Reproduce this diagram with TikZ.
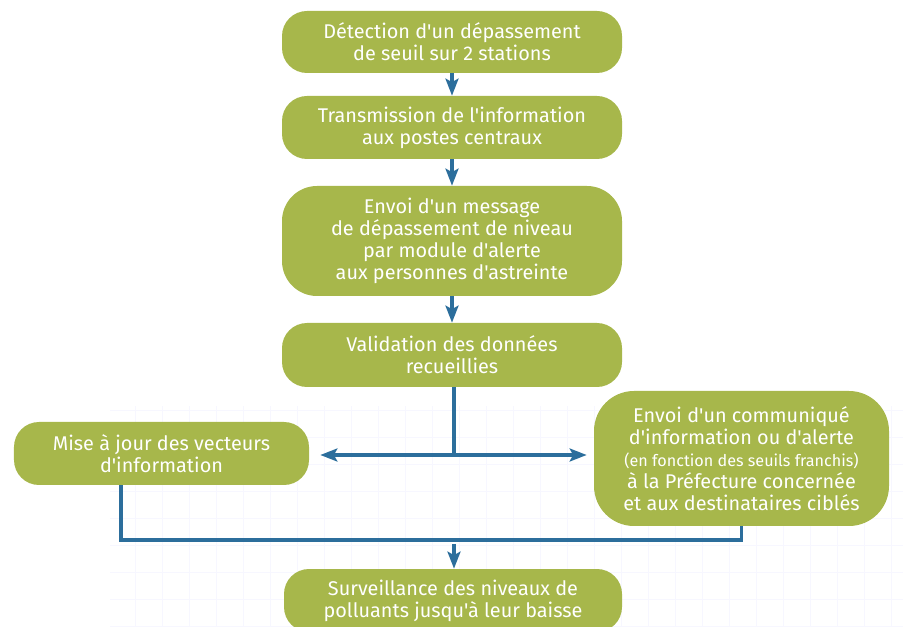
\documentclass[tikz,border=0pt]{standalone}
\usepackage{fontspec}
\setmainfont{Fira Sans}[Ligatures=TeXOff]
\usetikzlibrary{arrows.meta}
\definecolor{verde}{HTML}{A7B74B}
\definecolor{azul}{HTML}{2C6E9C}
\tikzset{
  etapa/.style={rounded corners=0.5cm, fill=verde, text=white, align=center,
    minimum width=6.8cm, minimum height=1.26cm, inner sep=0pt,
    font=\fontsize{11.3}{12.6}\selectfont},
  ligacao/.style={draw=azul, line width=1.8pt},
  seta/.style={ligacao, -{Stealth[length=0.34cm, width=0.26cm, inset=0.07cm]}},
}
\begin{document}
\begin{tikzpicture}
            \useasboundingbox (0,0) rectangle (18.06,12.52);
            % Grade de fundo
            \draw[step=0.54cm, blue!3, very thin] (2.2,-0.2) grid (18.06,4.4);
            % Etapas principais (coluna central)
            \node at (9.04,11.68) (n1) [etapa, minimum height=1.24cm] {Détection d'un dépassement\\de seuil sur 2 stations};
            \node at (9.04,9.97) (n2) [etapa] {Transmission de l'information\\aux postes centraux};
            \node at (9.04,7.70) (n3) [etapa, minimum height=2.2cm, rounded corners=0.7cm] {Envoi d'un message\\de dépassement de niveau\\par module d'alerte\\aux personnes d'astreinte};
            \node at (9.04,5.42) (n4) [etapa, minimum height=1.28cm] {Validation des données\\recueillies};
            % Ramos esquerdo e direito
            \node at (3.23,3.45) (n5) [etapa, minimum width=5.9cm] {Mise à jour des vecteurs\\d'information};
            \node at (14.83,3.35) (n6) [etapa, minimum width=5.9cm, minimum height=2.7cm, rounded corners=0.8cm] {Envoi d'un communiqué\\d'information ou d'alerte\\{\fontsize{9.2}{12.6}\selectfont(en fonction des seuils franchis)}\\à la Préfecture concernée\\et aux destinataires ciblés};
            % Etapa final
            \node at (9.06,0.51) (n7) [etapa, minimum width=6.76cm] {Surveillance des niveaux de\\polluants jusqu'à leur baisse};
            % Setas entre as etapas
            \draw[seta] (n1) -- (n2);
            \draw[seta] (n2) -- (n3);
            \draw[seta] (n3) -- (n4);
            \coordinate (j) at (9.08,3.42);
            \draw[ligacao] (n4.south -| j) -- (j);
            \draw[seta, shorten >=0.22cm] (j) -- (j -| n5.east);
            \draw[seta, shorten >=0.14cm] (j) -- (j -| n6.west);
            % Retorno para a vigilancia
            \coordinate (c1) at (2.42,1.72);
            \coordinate (c2) at (14.83,1.72);
            \coordinate (c3) at (9.08,1.72);
            \draw[ligacao] (n5.south -| c1) -- (c1) -- (c2) -- (n6.south);
            \draw[seta, shorten <=0.08cm] (c3) -- (c3 |- n7.north);
        \end{tikzpicture}
\end{document}
